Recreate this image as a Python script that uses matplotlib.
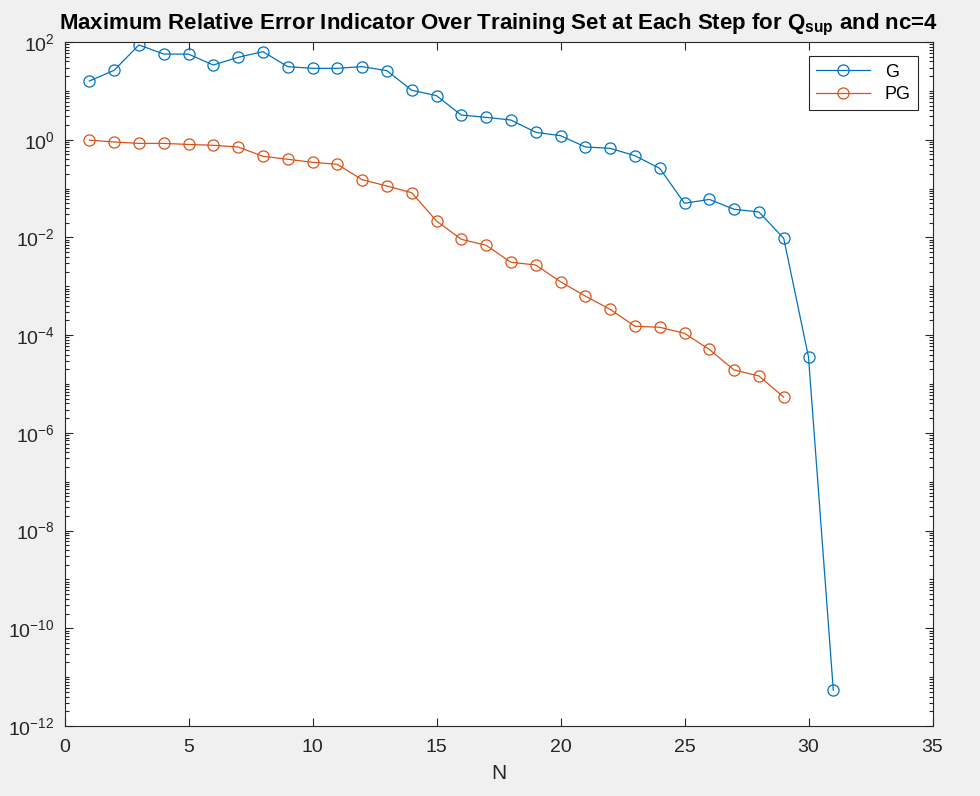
import numpy as np
import matplotlib
matplotlib.use("Agg")
import matplotlib.pyplot as plt
from matplotlib.ticker import LogLocator, FixedLocator, NullFormatter

plt.rcParams['font.family'] = ['Liberation Sans', 'DejaVu Sans']
plt.rcParams['mathtext.fontset'] = 'custom'
plt.rcParams['mathtext.rm'] = 'Liberation Sans'
plt.rcParams['mathtext.bf'] = 'Liberation Sans:bold'
plt.rcParams['mathtext.it'] = 'Liberation Sans:italic'

# ----------------------------
# dados
# ----------------------------
n_g = list(range(1, 32))
erro_g = [15.9, 26.3, 87, 56.8, 56.5, 33.8, 48.6, 63.5, 31.3, 28.9, 28.9, 31.3, 25.9,
          10.3, 7.97, 3.2, 2.87, 2.53, 1.42, 1.21, 0.71, 0.667, 0.471, 0.26,
          0.050, 0.060, 0.0377, 0.0332, 0.0096, 3.57e-5, 5.4e-12]

n_pg = list(range(1, 30))
erro_pg = [0.98, 0.90, 0.84, 0.84, 0.80, 0.77, 0.71, 0.458, 0.398, 0.345, 0.314,
           0.152, 0.113, 0.0824, 0.0217, 0.00916, 0.0069, 0.0031, 0.00273, 0.00124,
           6.3e-4, 3.38e-4, 1.52e-4, 1.45e-4, 1.09e-4, 5.1e-5, 1.94e-5, 1.46e-5, 5.4e-6]

azul = '#0072BD'
laranja = '#D95319'
cinza = '#262626'

fig = plt.figure(figsize=(9.8, 7.96), dpi=100, facecolor='#f0f0f0')
ax = fig.add_axes([64.5 / 980, 70 / 796, 868 / 980, 684 / 796])

ax.semilogy(n_g, erro_g, '-o', color=azul, mfc='none', ms=8, lw=0.9, mew=0.9, label='G')
ax.semilogy(n_pg, erro_pg, '-o', color=laranja, mfc='none', ms=8, lw=0.9, mew=0.9, label='PG')

ax.set_xlim(0, 35)
ax.set_ylim(1e-12, 1e2)
ax.set_xticks(range(0, 36, 5))
ax.yaxis.set_major_locator(FixedLocator([10.0 ** k for k in range(-12, 3, 2)]))
ax.yaxis.set_minor_locator(LogLocator(base=10, subs=np.arange(1, 10), numticks=100))
ax.yaxis.set_minor_formatter(NullFormatter())

ax.tick_params(which='both', direction='in', top=True, right=True, colors=cinza,
               labelsize=14, width=0.8)
ax.tick_params(which='major', length=5.5)
ax.tick_params(which='minor', length=3)
ax.tick_params(axis='x', which='major', pad=9)
ax.tick_params(axis='y', which='major', pad=7)
for s in ax.spines.values():
    s.set_color(cinza)
    s.set_linewidth(0.8)

ax.set_xlabel('N', fontsize=15, color=cinza, labelpad=6)
ax.set_title(r'Maximum Relative Error Indicator Over Training Set at Each Step for $\mathbf{Q_{sup}}$ and nc=4',
             fontsize=16, fontweight='bold', pad=9)

leg = ax.legend(loc='upper right', fontsize=13, fancybox=False, framealpha=1,
                edgecolor=cinza, borderaxespad=0.8, handlelength=3.0,
                labelspacing=0.3, borderpad=0.4)
leg.get_frame().set_linewidth(0.8)

fig.savefig('out.png', dpi=100, facecolor=fig.get_facecolor())
